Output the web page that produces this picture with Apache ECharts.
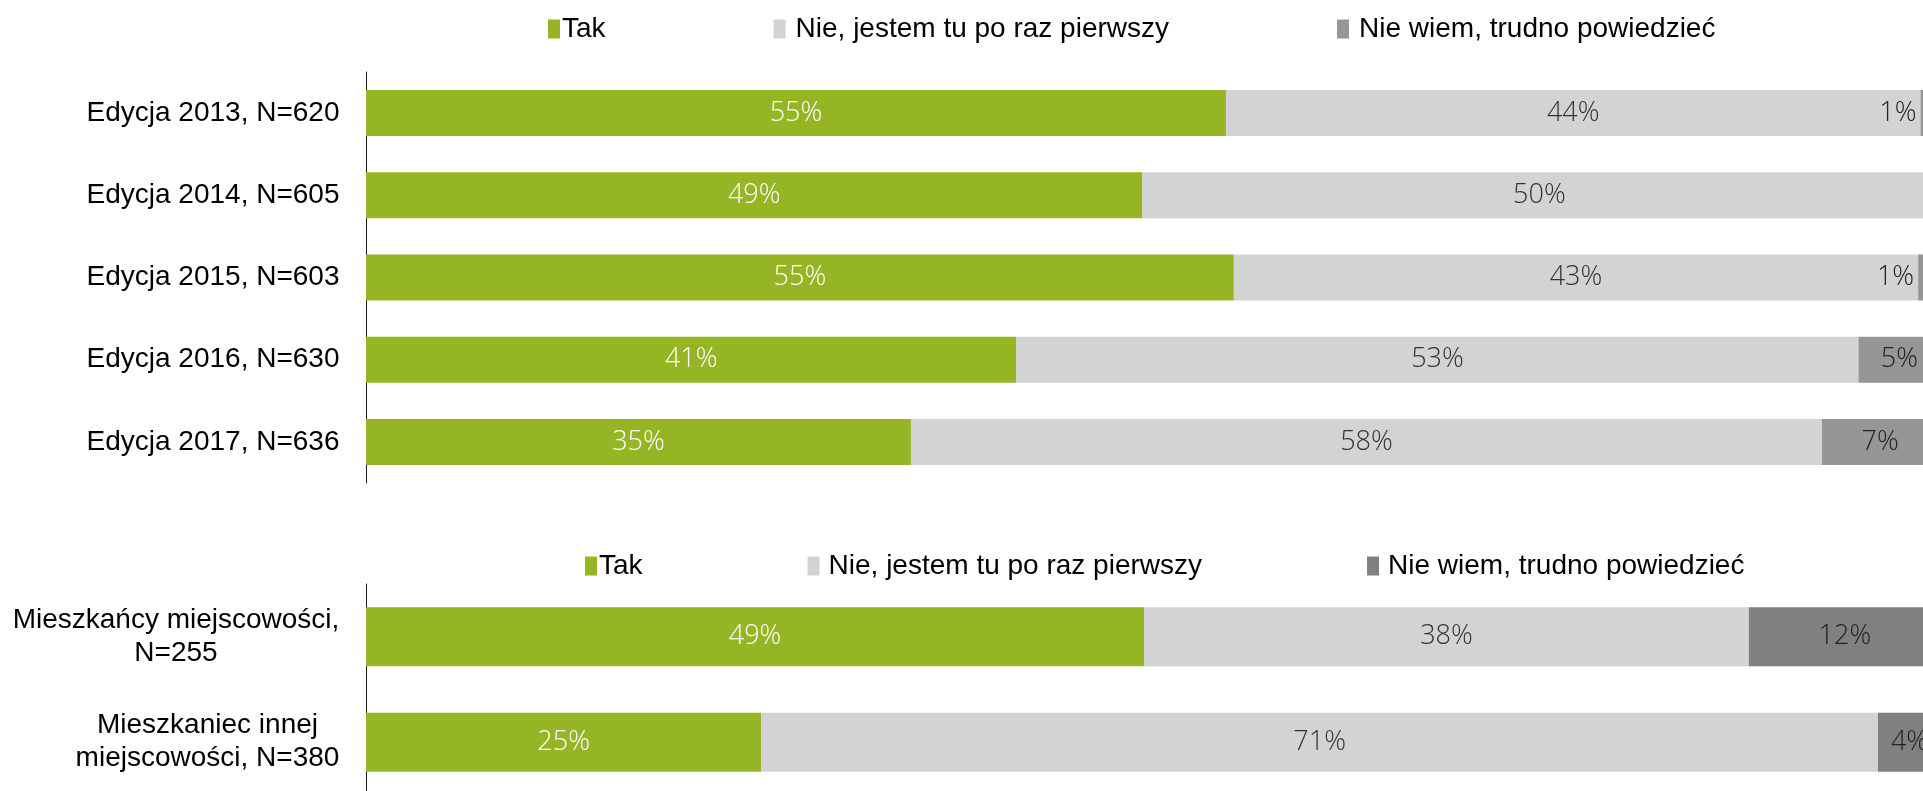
<!DOCTYPE html>
<html>
<head>
<meta charset="utf-8">
<script src="https://cdn.jsdelivr.net/npm/echarts@6/dist/echarts.min.js"></script>
<style>
html,body{margin:0;padding:0;background:#fff;overflow:hidden;}
#chart{width:1923px;height:791px;}
</style>
</head>
<body>
<div id="chart"></div>
<script>
// ---- data ----
const legendNames = ['Tak', 'Nie, jestem tu po raz pierwszy', 'Nie wiem, trudno powiedzieć'];
const categoriesTop = ['Edycja 2013, N=620', 'Edycja 2014, N=605', 'Edycja 2015, N=603', 'Edycja 2016, N=630', 'Edycja 2017, N=636'];
const takTop = [54.6, 49.3, 55.1, 41.3, 34.6];
const nieTop = [44.1, 50.4, 43.45, 53.46, 57.84];
const nwTop = [1.3, 0, 1.4, 5.2, 7.4];
const categoriesBottom = ['Mieszkańcy miejscowości,\nN=255', 'Mieszkaniec innej\nmiejscowości, N=380'];
const takBottom = [49.4, 25.1];
const nieBottom = [38.4, 70.9];
const nwBottom = [12.2, 4.0];

// ---- styles ----
const GREEN = '#95B524', LIGHT = '#D2D3D5', DARK1 = '#969696', DARK2 = '#808080';
const CAT_FONT = '"Liberation Sans", Arial, sans-serif';
const VAL_FONT = '"Open Sans", "Noto Sans", sans-serif';
const CAT_SIZE = 28;

const ctx = document.createElement('canvas').getContext('2d');
ctx.font = CAT_SIZE + 'px ' + CAT_FONT;
function makeRich(cats) {
  const rich = {};
  cats.forEach((c, i) => {
    const w = Math.max(...c.split('\n').map(l => ctx.measureText(l).width));
    rich['r' + i] = {width: Math.ceil(w) + 1, align: 'center', fontSize: CAT_SIZE, fontFamily: CAT_FONT, color: '#000', lineHeight: 33};
  });
  return rich;
}
function catFormatter(v, i) {
  return v.split('\n').map(l => '{r' + i + '|' + l + '}').join('\n');
}
const fmt = p => (p.value < 0.5 ? '' : Math.round(p.value) + '%');
function lbl(color) {
  return {show: true, position: 'inside', formatter: fmt, color: color, fontSize: 27, fontFamily: VAL_FONT, fontWeight: 300};
}
function darkData(arr) {
  return arr.map(v => v > 0 && v < 3 ? {value: v, label: {position: 'left', distance: 4}} : v);
}
function mkSeries(name, data, color, labelColor, stack, xi, bw) {
  return {name: name, type: 'bar', stack: stack, xAxisIndex: xi, yAxisIndex: xi, data: data, barWidth: bw,
    itemStyle: {color: color}, label: lbl(labelColor), emphasis: {disabled: true}};
}
const legendText = {fontSize: 28, fontFamily: CAT_FONT, color: '#000'};
function legendData(colors, padLeft) {
  return legendNames.map((n, i) => ({
    name: n, itemStyle: {color: colors[i]},
    textStyle: Object.assign({}, legendText, {padding: [0, 0, 0, i === 0 ? -3 : padLeft]})
  }));
}
const legendBase = {
  icon: 'rect', itemWidth: 12, itemHeight: 19, padding: 0,
  textStyle: legendText, selectedMode: false
};
const option = {
  animation: false,
  legend: [
    Object.assign({}, legendBase, {left: 548, top: 15, itemGap: 168,
      data: legendData([GREEN, LIGHT, DARK1], 5)}),
    Object.assign({}, legendBase, {left: 585, top: 552, itemGap: 165,
      data: legendData([GREEN, LIGHT, DARK2], 4)})
  ],
  grid: [
    {left: 366, width: 1575, top: 72, height: 411, outerBoundsMode: 'none', containLabel: false},
    {left: 366, width: 1575, top: 584, height: 211, outerBoundsMode: 'none', containLabel: false}
  ],
  xAxis: [
    {gridIndex: 0, type: 'value', min: 0, max: 100, show: false},
    {gridIndex: 1, type: 'value', min: 0, max: 100, show: false}
  ],
  yAxis: [
    {gridIndex: 0, type: 'category', inverse: true, data: categoriesTop,
      axisLine: {show: true, lineStyle: {color: '#1a1a1a', width: 1}}, axisTick: {show: false},
      axisLabel: {align: 'right', margin: 26, formatter: catFormatter, rich: makeRich(categoriesTop)}},
    {gridIndex: 1, type: 'category', inverse: true, data: categoriesBottom,
      axisLine: {show: true, lineStyle: {color: '#1a1a1a', width: 1}}, axisTick: {show: false},
      axisLabel: {align: 'right', margin: 26, formatter: catFormatter, rich: makeRich(categoriesBottom)}}
  ],
  series: [
    mkSeries(legendNames[0], takTop, GREEN, '#FFFFFF', 'top', 0, 46),
    mkSeries(legendNames[1], nieTop, LIGHT, '#333333', 'top', 0, 46),
    mkSeries(legendNames[2], darkData(nwTop), DARK1, '#222222', 'top', 0, 46),
    mkSeries(legendNames[0], takBottom, GREEN, '#FFFFFF', 'bottom', 1, 59),
    mkSeries(legendNames[1], nieBottom, LIGHT, '#333333', 'bottom', 1, 59),
    mkSeries(legendNames[2], darkData(nwBottom), DARK2, '#222222', 'bottom', 1, 59)
  ]
};
const chart = echarts.init(document.getElementById('chart'), null, {renderer: 'canvas'});
chart.setOption(option);
</script>
</body>
</html>
